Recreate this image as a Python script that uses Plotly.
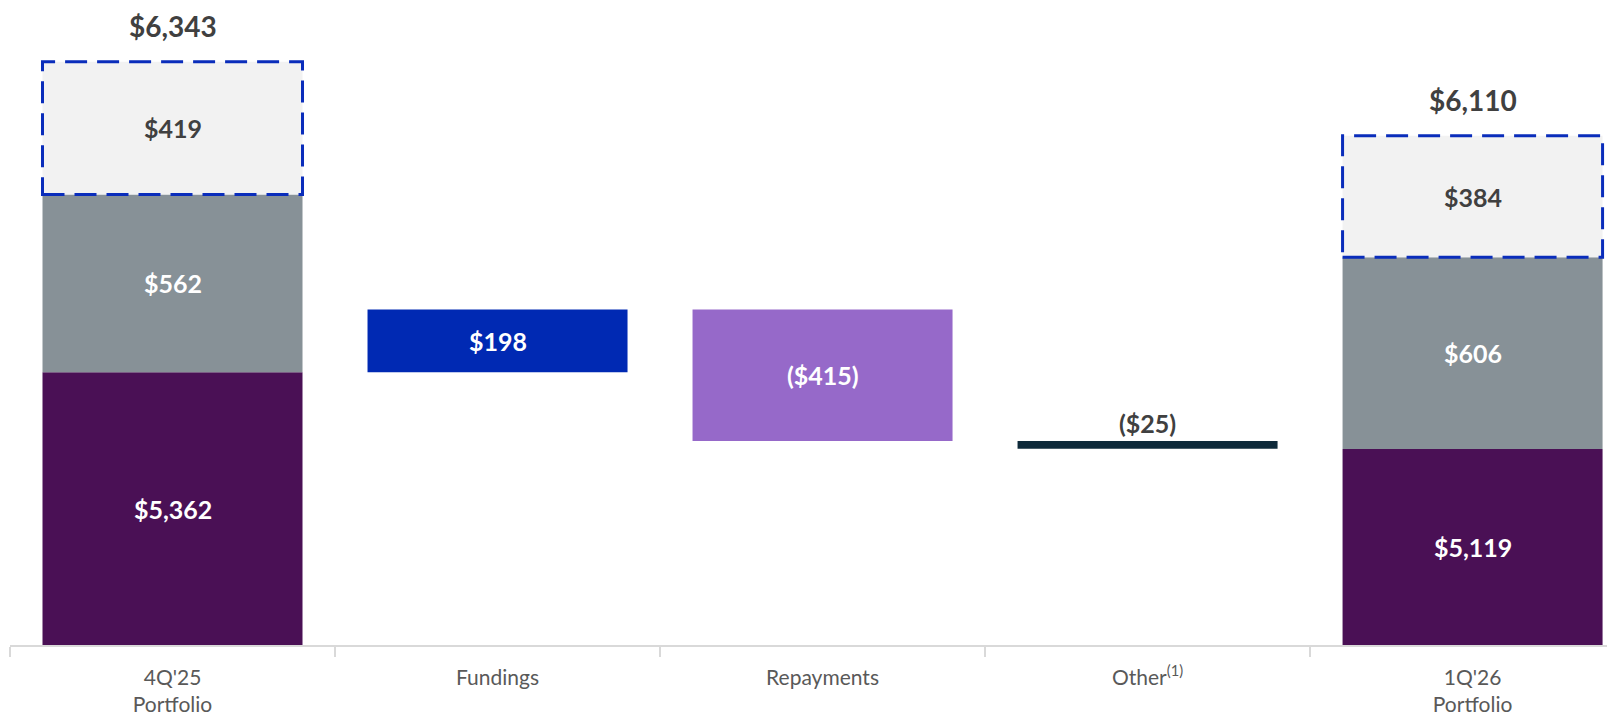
import plotly.graph_objects as go

categories = ["4Q'25<br>Portfolio", "Fundings", "Repayments", "Other<sup>(1)</sup>", "1Q'26<br>Portfolio"]

# Portfolio composition (ends)
end_cats = [categories[0], categories[4]]
funded = [5362, 5119]
unfunded_a = [562, 606]
unfunded_b = [419, 384]
totals = [6343, 6110]
total_labels = ["$6,343", "$6,110"]
funded_labels = ["$5,362", "$5,119"]
unfunded_a_labels = ["$562", "$606"]
unfunded_b_labels = ["$419", "$384"]

# Waterfall steps (on funded portion)
fundings = 198
repayments = -415
other = -25
step_labels = ["$198", "($415)", "($25)"]

Y_MIN = 4500
Y_MAX = 6513
X_RANGE = [-0.5, 4.429]

C_PURPLE = "#4a1055"
C_GRAY = "#879197"
C_LIGHT = "#f2f2f2"
C_BLUE = "#0029b3"
C_LAV = "#9669c9"
C_NAVY = "#0e2a3a"
C_DASH = "#0a2dbb"
C_TXT = "#404040"

fig = go.Figure()

base_b = [f + a for f, a in zip(funded, unfunded_a)]
fig.add_trace(go.Bar(x=end_cats, y=funded, base=[0, 0], marker=dict(color=C_PURPLE, line=dict(width=0)), width=0.8))
fig.add_trace(go.Bar(x=end_cats, y=unfunded_a, base=funded, marker=dict(color=C_GRAY, line=dict(width=0)), width=0.8))
fig.add_trace(go.Bar(x=end_cats, y=unfunded_b, base=base_b, marker=dict(color=C_LIGHT, line=dict(width=0)), width=0.8))

lvl1 = funded[0]
lvl2 = lvl1 + fundings
lvl3 = lvl2 + repayments
lvl4 = lvl3 + other
fig.add_trace(go.Bar(x=[categories[1]], y=[fundings], base=[lvl1], marker=dict(color=C_BLUE, line=dict(width=0)), width=0.8))
fig.add_trace(go.Bar(x=[categories[2]], y=[-repayments], base=[lvl3], marker=dict(color=C_LAV, line=dict(width=0)), width=0.8))
fig.add_trace(go.Bar(x=[categories[3]], y=[-other], base=[lvl4], marker=dict(color=C_NAVY, line=dict(width=0)), width=0.8))

annotations = []
shapes = []
FONT = "Lato"
SEG = 25
for i, c in enumerate(end_cats):
    xi = categories.index(c)
    annotations.append(dict(x=c, y=(max(Y_MIN, 0) + funded[i]) / 2, text="<b>%s</b>" % funded_labels[i],
                            showarrow=False, font=dict(family=FONT, size=SEG, color="white")))
    annotations.append(dict(x=c, y=funded[i] + unfunded_a[i] / 2, text="<b>%s</b>" % unfunded_a_labels[i],
                            showarrow=False, font=dict(family=FONT, size=SEG, color="white")))
    annotations.append(dict(x=c, y=base_b[i] + unfunded_b[i] / 2, text="<b>%s</b>" % unfunded_b_labels[i],
                            showarrow=False, font=dict(family=FONT, size=SEG, color=C_TXT)))
    annotations.append(dict(x=c, y=totals[i], text="<b>%s</b>" % total_labels[i], yanchor="middle", yshift=36,
                            showarrow=False, font=dict(family=FONT, size=28, color=C_TXT)))
    shapes.append(dict(type="rect", xref="x", yref="y", x0=xi - 0.4, x1=xi + 0.4,
                       y0=base_b[i], y1=base_b[i] + unfunded_b[i],
                       line=dict(color=C_DASH, width=3, dash="22px,10px"), fillcolor="rgba(0,0,0,0)"))

annotations.append(dict(x=categories[1], y=(lvl1 + lvl2) / 2, text="<b>%s</b>" % step_labels[0],
                        showarrow=False, font=dict(family=FONT, size=SEG, color="white")))
annotations.append(dict(x=categories[2], y=(lvl2 + lvl3) / 2, text="<b>%s</b>" % step_labels[1],
                        showarrow=False, font=dict(family=FONT, size=SEG, color="white")))
annotations.append(dict(x=categories[3], y=lvl3, text="<b>%s</b>" % step_labels[2], yanchor="bottom", yshift=1,
                        showarrow=False, font=dict(family=FONT, size=SEG, color=C_TXT)))

fig.update_layout(
    width=1607, height=708,
    margin=dict(l=2, r=3, t=0, b=69),
    barmode="overlay",
    showlegend=False,
    plot_bgcolor="white", paper_bgcolor="white",
    annotations=annotations, shapes=shapes,
    xaxis=dict(type="category", categoryorder="array", categoryarray=categories, range=X_RANGE,
               showline=True, linecolor="#d9d9d9", linewidth=1.5,
               ticks="outside", tickson="boundaries", ticklen=10, tickcolor="#d9d9d9", tickwidth=1.5,
               ticklabelstandoff=13,
               tickfont=dict(family=FONT, size=21, color="#595959"), showgrid=False),
    yaxis=dict(range=[Y_MIN, Y_MAX], visible=False, showgrid=False, zeroline=False),
)

fig.write_html("out.html")
